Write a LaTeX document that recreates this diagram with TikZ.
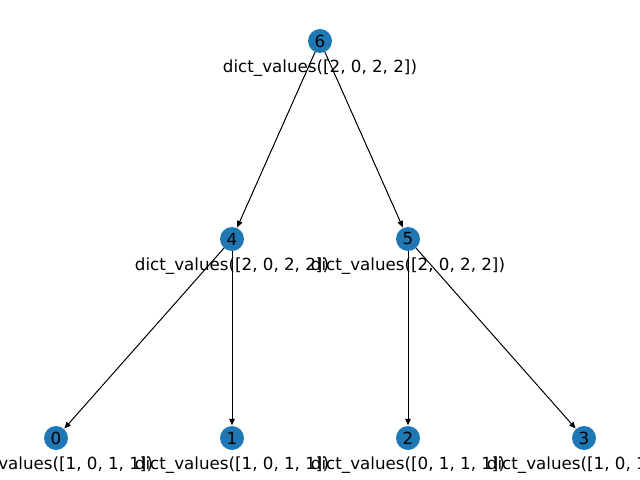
\documentclass[tikz,border=0pt]{standalone}
\usepackage{fontspec}
\setmainfont{DejaVu Sans}
\usetikzlibrary{arrows.meta}
\definecolor{nodeblue}{HTML}{1F77B4}
\tikzset{
  vertex/.style={circle, fill=nodeblue, minimum size=24bp, inner sep=0pt,
    font=\fontsize{16.7bp}{19bp}\selectfont},
  tag/.style={inner sep=0pt, font=\fontsize{16.7bp}{19bp}\selectfont},
  edge/.style={draw=black, line width=1bp,
    -{Triangle[length=6.5bp,width=5.5bp]}, shorten >=0.5bp}
}
\begin{document}
\begin{tikzpicture}[x=1bp, y=-1bp]
  \useasboundingbox (0,0) rectangle (640,480);
  \clip (0,0) rectangle (640,480);
  % tree nodes
  \node[vertex] (n6) at (320,41) {6};
  \node[vertex] (n4) at (232,239) {4};
  \node[vertex] (n5) at (408,239) {5};
  \node[vertex] (n0) at (56,438) {0};
  \node[vertex] (n1) at (232,438) {1};
  \node[vertex] (n2) at (408,438) {2};
  \node[vertex] (n3) at (584,438) {3};
  % value labels under each node
  \node[tag] (t6) at (320,68) {dict\_values([2, 0, 2, 2])};
  \node[tag] (t4) at (232,266) {dict\_values([2, 0, 2, 2])};
  \node[tag] (t5) at (408,266) {dict\_values([2, 0, 2, 2])};
  \node[tag] (t0) at (56,465) {dict\_values([1, 0, 1, 1])};
  \node[tag] (t1) at (232,465) {dict\_values([1, 0, 1, 1])};
  \node[tag] (t2) at (408,465) {dict\_values([0, 1, 1, 1])};
  \node[tag] (t3) at (584,465) {dict\_values([1, 0, 1, 1])};
  % directed edges
  \draw[edge] (n6) -- (n4);
  \draw[edge] (n6) -- (n5);
  \draw[edge] (n4) -- (n0);
  \draw[edge] (n4) -- (n1);
  \draw[edge] (n5) -- (n2);
  \draw[edge] (n5) -- (n3);
\end{tikzpicture}
\end{document}
